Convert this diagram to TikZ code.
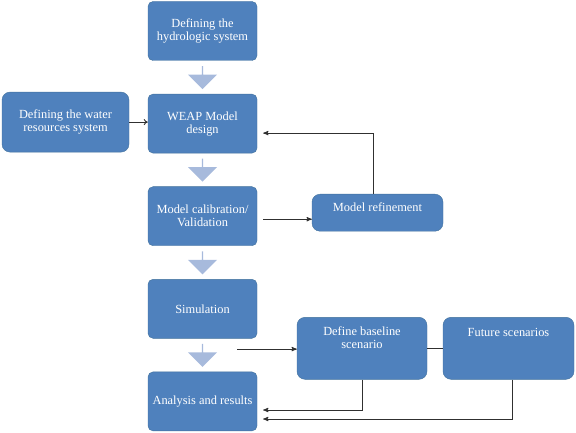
\documentclass[tikz,border=0pt]{standalone}
\usepackage{fontspec}
\setmainfont{Liberation Serif}
\usetikzlibrary{arrows}
\usetikzlibrary{positioning}
\usetikzlibrary{calc}
\usetikzlibrary{shapes.arrows}
\usetikzlibrary{arrows.meta}
\definecolor{boxblue}{HTML}{4F81BD}
\definecolor{boxedge}{HTML}{41719C}
\definecolor{arrowblue}{HTML}{A7BADC}
\definecolor{linegray}{HTML}{303030}
\begin{document}
\begin{tikzpicture}[>=stealth',x=1pt,y=1pt,node distance=92.6pt]
		\tikzstyle{every node}=[font=\fontsize{12.4}{13}\selectfont]
		\tikzstyle{box}=[draw=boxedge,fill=boxblue,text=white,rounded corners=5pt,
		align=center,minimum width=109pt,minimum height=59pt,inner sep=2pt]
		\tikzstyle{sidebox}=[box,rounded corners=8pt]
		\tikzstyle{blockarrow}=[single arrow,draw=none,fill=arrowblue,rotate=-90,
		minimum height=23pt,minimum width=29pt,single arrow head extend=4.5pt,inner sep=0pt]
		\tikzstyle{line}=[draw=linegray,line width=0.9pt]
		\useasboundingbox (0,0) rectangle (576,-433);
		
		\node[box]       (Hydro)    at (202.5,-31)             {Defining the\\hydrologic system};
		\node[box]       (WEAP)     [below of=Hydro]           {WEAP Model\\design};
		\node[box]       (Calib)    [below of=WEAP]            {Model calibration/\\Validation};
		\node[box]       (Sim)      [below of=Calib]           {Simulation};
		\node[box]       (Analysis) [below of=Sim]             {Analysis and results};
		
		\node[sidebox,minimum width=127pt,minimum height=60pt] (Water) [left of=WEAP,node distance=137pt,yshift=1.5pt]
		{Defining the water\\resources system};
		\node[sidebox,minimum width=131pt,minimum height=37pt,text depth=12pt] (Refine) [right of=Calib,node distance=175pt,yshift=3.5pt]
		{Model refinement};
		\node[sidebox,minimum width=130pt,minimum height=62pt,text depth=21pt] (Base) [right of=Sim,node distance=159.5pt,yshift=-39.5pt]
		{Define baseline\\scenario};
		\node[sidebox,minimum width=131pt,minimum height=62pt,text depth=32pt] (Future) [right of=Base,node distance=146.5pt]
		{Future scenarios};
		
		% block arrows between the main steps
		\node[blockarrow] (A1) at ($(Hydro)!0.5!(WEAP)$)    {};
		\node[blockarrow] (A2) at ($(WEAP)!0.5!(Calib)$)    {};
		\node[blockarrow] (A3) at ($(Calib)!0.5!(Sim)$)     {};
		\node[blockarrow] (A4) at ($(Sim)!0.5!(Analysis)$)  {};
		\coordinate (Split) at ($(A4)+(34.5pt,6pt)$);
		
		\draw[line,-{To[length=4pt,width=6pt]}] (Water.east) -- (Water.east -| WEAP.west);
		\draw[line,->,shorten <=6pt] ([yshift=-3pt]Calib.east) -- ([yshift=-3pt]Calib.east -| Refine.west);
		\draw[line,->,shorten >=6pt] ([xshift=-4.5pt]Refine.north) |- ([yshift=-9.5pt]WEAP.east);
		\draw[line,->] (Split) -- (Split -| Base.west);
		\draw[line] (Base.east) -- (Future.west);
		\draw[line,->,shorten >=6pt] (Base.south) |- ([yshift=-8.6pt]Analysis.east);
		\draw[line,->,shorten >=6pt] ([xshift=3.5pt]Future.south) |- ([yshift=-17.6pt]Analysis.east);
		\end{tikzpicture}
\end{document}
